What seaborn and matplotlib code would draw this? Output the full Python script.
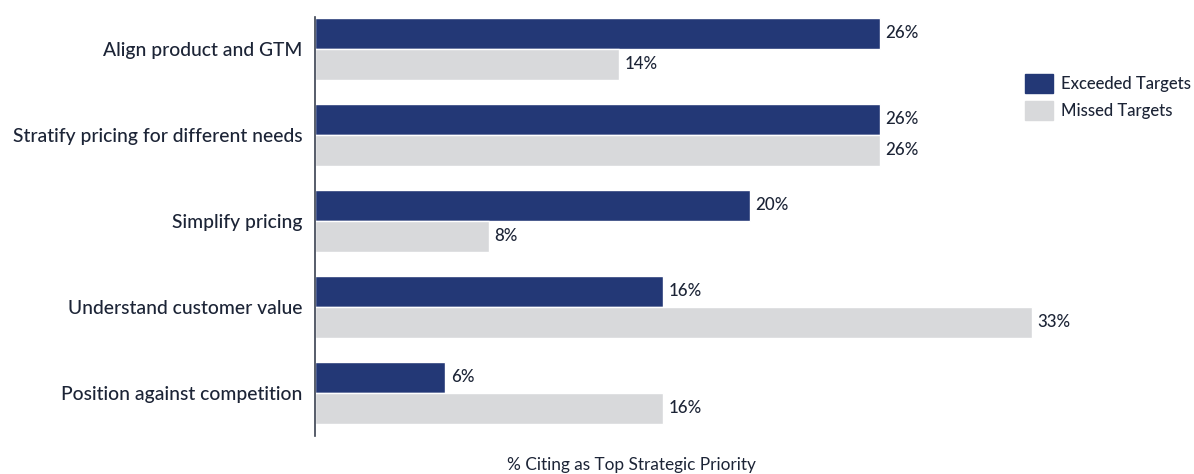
import matplotlib
matplotlib.use("Agg")
import matplotlib.pyplot as plt
import seaborn as sns
import pandas as pd

categories = [
    "Align product and GTM",
    "Stratify pricing for different needs",
    "Simplify pricing",
    "Understand customer value",
    "Position against competition",
]
exceeded = [26, 26, 20, 16, 6]
missed = [14, 26, 8, 33, 16]
series_names = ["Exceeded Targets", "Missed Targets"]
x_label = "% Citing as Top Strategic Priority"

NAVY = "#233876"
GRAY = "#d8d9db"
TEXT = "#1c2436"

df = pd.DataFrame({
    "category": categories * 2,
    "value": exceeded + missed,
    "series": [series_names[0]] * len(categories) + [series_names[1]] * len(categories),
})

sns.set_theme(style="white")
plt.rcParams["font.family"] = ["Lato", "DejaVu Sans"]
plt.rcParams["font.weight"] = "medium"

fig = plt.figure(figsize=(11.94, 4.74), dpi=100)
ax = fig.add_axes([315 / 1194, 1 - 436 / 474, (1100 - 315) / 1194, (436 - 17) / 474])

sns.barplot(
    data=df, y="category", x="value", hue="series", orient="h",
    order=categories, hue_order=series_names,
    palette=[NAVY, GRAY], width=0.72, saturation=1, ax=ax, legend=False,
)

ax.set_xlim(0, (1100 - 315) / 21.73)
ax.set_ylim(4.5, -0.37)

for container in ax.containers:
    ax.bar_label(container, labels=[f"{v:.0f}%" for v in container.datavalues],
                 padding=4, fontsize=12.2, color=TEXT)

for s in ["top", "right", "bottom"]:
    ax.spines[s].set_visible(False)
ax.spines["left"].set_color("#3a4150")
ax.spines["left"].set_linewidth(1.2)

ax.set_xticks([])
ax.set_ylabel("")
ax.tick_params(axis="y", length=0, pad=9, labelsize=13.9, labelcolor=TEXT)
ax.set_xlabel(x_label, fontsize=12.4, color=TEXT)
ax.xaxis.set_label_coords((631 - 315) / (1100 - 315), -0.05)

handles = [plt.Rectangle((0, 0), 1, 1, color=c) for c in (NAVY, GRAY)]
leg = fig.legend(handles, series_names, loc="upper left",
                 bbox_to_anchor=(1010 / 1194, 1 - 59 / 474), frameon=False,
                 fontsize=12, handlelength=1.65, handleheight=1.4,
                 handletextpad=0.5, labelspacing=0.45)
for t in leg.get_texts():
    t.set_color(TEXT)

fig.savefig("out.png", dpi=100)
